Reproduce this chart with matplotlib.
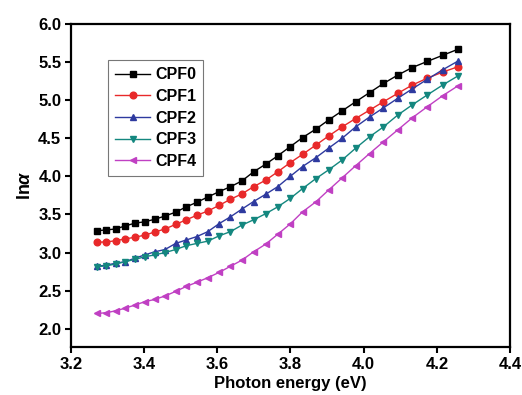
import matplotlib
matplotlib.use("Agg")
import matplotlib.pyplot as plt

plt.rcParams['font.family'] = ['Liberation Sans', 'DejaVu Sans']
plt.rcParams['mathtext.fontset'] = 'custom'
plt.rcParams['mathtext.rm'] = 'Liberation Sans:bold'
plt.rcParams['mathtext.bf'] = 'Liberation Sans:bold'
plt.rcParams['mathtext.it'] = 'Liberation Sans:italic:bold'

energy = [3.270, 3.296, 3.322, 3.348, 3.374, 3.402, 3.429, 3.457, 3.486, 3.515,
          3.544, 3.574, 3.605, 3.636, 3.667, 3.699, 3.732, 3.765, 3.799, 3.833,
          3.869, 3.904, 3.941, 3.978, 4.016, 4.054, 4.093, 4.133, 4.174, 4.216, 4.258]

cpf0 = [3.287, 3.297, 3.31, 3.35, 3.385, 3.405, 3.437, 3.48, 3.53, 3.60,
        3.66, 3.73, 3.80, 3.865, 3.94, 4.06, 4.16, 4.27, 4.39, 4.51,
        4.62, 4.74, 4.86, 4.98, 5.10, 5.22, 5.33, 5.43, 5.51, 5.59, 5.67]
cpf1 = [3.135, 3.14, 3.155, 3.18, 3.20, 3.23, 3.27, 3.31, 3.37, 3.43,
        3.49, 3.545, 3.62, 3.70, 3.77, 3.865, 3.95, 4.06, 4.18, 4.29,
        4.41, 4.53, 4.65, 4.76, 4.87, 4.98, 5.09, 5.20, 5.29, 5.37, 5.44]
cpf2 = [2.82, 2.835, 2.86, 2.88, 2.925, 2.97, 3.01, 3.04, 3.12, 3.165,
        3.21, 3.275, 3.38, 3.47, 3.57, 3.67, 3.765, 3.865, 4.00, 4.13,
        4.245, 4.37, 4.50, 4.65, 4.78, 4.90, 5.025, 5.15, 5.275, 5.40, 5.515]
cpf3 = [2.815, 2.825, 2.85, 2.88, 2.91, 2.945, 2.97, 3.0, 3.04, 3.09,
        3.12, 3.15, 3.22, 3.275, 3.36, 3.43, 3.51, 3.60, 3.71, 3.84,
        3.97, 4.085, 4.215, 4.37, 4.52, 4.65, 4.805, 4.94, 5.07, 5.20, 5.32]
cpf4 = [2.20, 2.21, 2.235, 2.27, 2.31, 2.355, 2.385, 2.43, 2.49, 2.555,
        2.61, 2.67, 2.74, 2.82, 2.90, 3.01, 3.11, 3.24, 3.375, 3.535,
        3.665, 3.82, 3.98, 4.14, 4.30, 4.455, 4.61, 4.77, 4.915, 5.06, 5.19]

labels = ['CPF0', 'CPF1', 'CPF2', 'CPF3', 'CPF4']
series = [cpf0, cpf1, cpf2, cpf3, cpf4]
colors = ['#000000', '#E8292A', '#2E3A9F', '#14877F', '#C040C3']
markers = ['s', 'o', '^', 'v', '<']

fig = plt.figure(figsize=(5.22, 3.95), dpi=100)
ax = fig.add_axes([0.136, 0.1215, 0.841, 0.8175])

for y, lab, c, m in zip(series, labels, colors, markers):
    ax.plot(energy, y, color=c, marker=m, markersize=4.8, linewidth=1.0, label=lab)

ax.set_xlim(3.2, 4.4)
ax.set_ylim(1.76, 6.0)
ax.set_xticks([3.2, 3.4, 3.6, 3.8, 4.0, 4.2, 4.4])
ax.set_yticks([2.0, 2.5, 3.0, 3.5, 4.0, 4.5, 5.0, 5.5, 6.0])
ax.set_xticklabels(['3.2', '3.4', '3.6', '3.8', '4.0', '4.2', '4.4'])
ax.set_yticklabels(['2.0', '2.5', '3.0', '3.5', '4.0', '4.5', '5.0', '5.5', '6.0'])
for lab in ax.get_xticklabels() + ax.get_yticklabels():
    lab.set_fontweight('bold')
    lab.set_fontsize(12)
ax.tick_params(direction='out', length=4, width=1.5, top=False, right=False, pad=3)
for s in ax.spines.values():
    s.set_linewidth(1.6)

ax.set_xlabel('Photon energy (eV)', fontsize=12, fontweight='bold', labelpad=3)
ax.set_ylabel(r'$\mathrm{ln}\mathit{\alpha}$', fontsize=13, labelpad=3)

leg = ax.legend(loc='upper left', bbox_to_anchor=(0.084, 0.889), borderaxespad=0,
                frameon=True, fancybox=False, edgecolor='#555555',
                prop={'size': 11.5}, handlelength=2.2, handletextpad=0.3,
                labelspacing=0.42, borderpad=0.45)
for t in leg.get_texts():
    t.set_fontweight('bold')
leg.get_frame().set_linewidth(0.8)

fig.savefig('out.png', dpi=100)
